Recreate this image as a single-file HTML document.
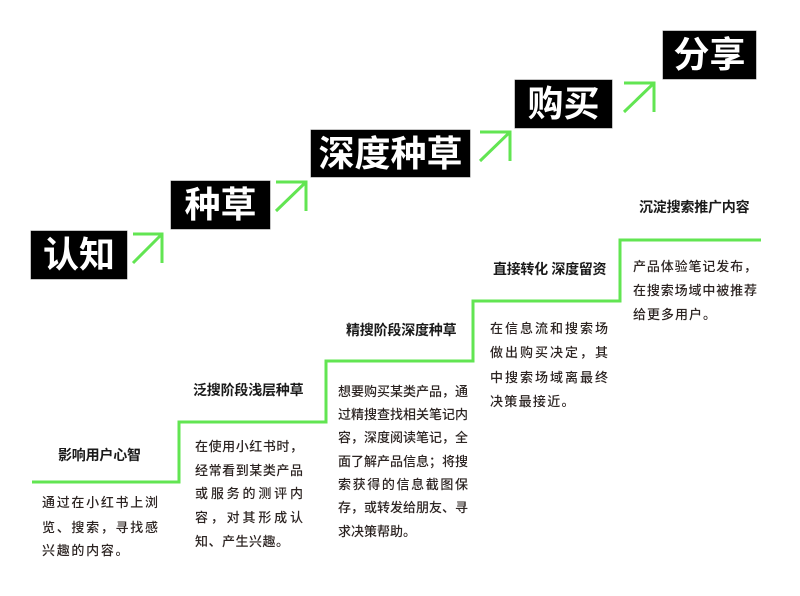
<!DOCTYPE html>
<html><head><meta charset="utf-8">
<style>
html,body{margin:0;padding:0;background:#fff;}
body{width:800px;height:596px;position:relative;overflow:hidden;font-family:"Liberation Sans","Noto Sans CJK SC",sans-serif;}
.box{position:absolute;background:#000;color:#fff;font-weight:700;font-size:36px;display:flex;align-items:center;justify-content:center;line-height:1;box-shadow:0 0 0 0.5px #888;}
.t{position:absolute;font-weight:700;font-size:14px;line-height:18px;height:18px;color:#1a1a1a;white-space:nowrap;letter-spacing:-0.2px;}
.l{position:absolute;font-size:13px;font-weight:500;line-height:16px;height:16px;color:#2c2422;white-space:nowrap;}
svg{position:absolute;left:0;top:0;}
</style></head><body>
<svg width="800" height="596" viewBox="0 0 800 596">
  <g fill="none" stroke="#62e552" stroke-width="3" stroke-linecap="butt" stroke-linejoin="miter">
    <polyline points="32,482 179,482 179,422 326,422 326,361 473,361 473,301 620,301 620,240 761,240"/>
    <path d="M133,234 H162 V263 M133,263 L162,234"/>
    <path d="M276,182 H306 V211 M276,211 L306,182"/>
    <path d="M480,132 H510 V161 M480,161 L510,132"/>
    <path d="M624,83 H654 V112 M624,112 L654,83"/>
  </g>
</svg>

<div class="box" style="left:31px;top:231px;width:96px;height:48px;">认知</div>
<div class="box" style="left:171px;top:181px;width:99px;height:48px;">种草</div>
<div class="box" style="left:311px;top:130px;width:159px;height:47px;">深度种草</div>
<div class="box" style="left:515px;top:80px;width:97px;height:48px;">购买</div>
<div class="box" style="left:663px;top:31px;width:93px;height:48px;">分享</div>

<div class="t" style="left:58px;top:446px;">影响用户心智</div>
<div class="t" style="left:193px;top:381px;">泛搜阶段浅层种草</div>
<div class="t" style="left:346px;top:321px;">精搜阶段深度种草</div>
<div class="t" style="left:493px;top:260px;letter-spacing:-0.3px;">直接转化 深度留资</div>
<div class="t" style="left:639px;top:198px;">沉淀搜索推广内容</div>

<!-- Block 1 -->
<div class="l" style="left:42px;top:495px;letter-spacing:1.71px;">通过在小红书上浏</div>
<div class="l" style="left:42px;top:520px;letter-spacing:1.71px;">览、搜索，寻找感</div>
<div class="l" style="left:42px;top:543px;letter-spacing:1.71px;">兴趣的内容。</div>

<!-- Block 2 -->
<div class="l" style="left:195px;top:439px;letter-spacing:0.57px;">在使用小红书时，</div>
<div class="l" style="left:195px;top:463px;letter-spacing:0.57px;">经常看到某类产品</div>
<div class="l" style="left:195px;top:486px;letter-spacing:2.83px;">或服务的测评内</div>
<div class="l" style="left:195px;top:510px;letter-spacing:2.83px;">容，对其形成认</div>
<div class="l" style="left:195px;top:534px;letter-spacing:0.5px;">知、产生兴趣。</div>

<!-- Block 3 -->
<div class="l" style="left:338px;top:384px;letter-spacing:0px;">想要购买某类产品，通</div>
<div class="l" style="left:338px;top:407px;letter-spacing:0px;">过精搜查找相关笔记内</div>
<div class="l" style="left:338px;top:430px;letter-spacing:0px;">容，深度阅读笔记，全</div>
<div class="l" style="left:338px;top:454px;letter-spacing:0px;">面了解产品信息；将搜</div>
<div class="l" style="left:338px;top:477px;letter-spacing:1.62px;">索获得的信息截图保</div>
<div class="l" style="left:338px;top:500px;letter-spacing:0px;">存，或转发给朋友、寻</div>
<div class="l" style="left:338px;top:524px;letter-spacing:0px;">求决策帮助。</div>

<!-- Block 4 -->
<div class="l" style="left:490px;top:321px;letter-spacing:2px;">在信息流和搜索场</div>
<div class="l" style="left:490px;top:345px;letter-spacing:2px;">做出购买决定，其</div>
<div class="l" style="left:490px;top:370px;letter-spacing:2px;">中搜索场域离最终</div>
<div class="l" style="left:490px;top:394px;letter-spacing:1.3px;">决策最接近。</div>

<!-- Block 5 -->
<div class="l" style="left:633px;top:259px;letter-spacing:0.88px;">产品体验笔记发布，</div>
<div class="l" style="left:633px;top:283px;letter-spacing:0.88px;">在搜索场域中被推荐</div>
<div class="l" style="left:633px;top:307px;letter-spacing:1px;">给更多用户。</div>
</body></html>
